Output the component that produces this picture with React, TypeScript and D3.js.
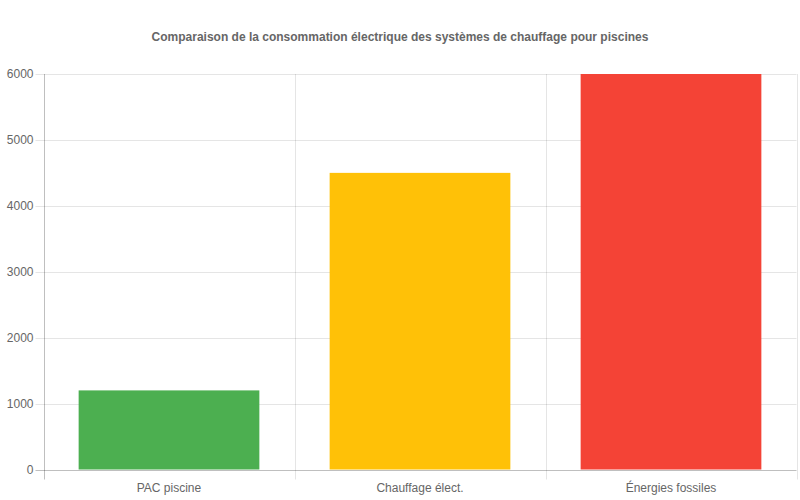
import React, { useEffect, useRef } from "react";
import * as d3 from "d3";

const categories = ["PAC piscine", "Chauffage élect.", "Énergies fossiles"];
const values = [1200, 4500, 6000];
const colors = ["#4CAF50", "#FFC107", "#F44336"];
const yTicks = [0, 1000, 2000, 3000, 4000, 5000, 6000];
const title = "Comparaison de la consommation électrique des systèmes de chauffage pour piscines";

export default function App() {
  const ref = useRef<SVGSVGElement | null>(null);

  useEffect(() => {
    const width = 800;
    const height = 500;
    const margin = { top: 74, right: 3.5, bottom: 30.5, left: 43.5 };
    const svg = d3.select(ref.current);
    svg.selectAll("*").remove();

    const font = "'Liberation Sans', Arial, sans-serif";

    const x = d3
      .scaleBand<string>()
      .domain(categories)
      .range([margin.left, width - margin.right]);
    const y = d3
      .scaleLinear()
      .domain([0, 6000])
      .range([height - margin.bottom, margin.top]);

    // grille horizontale
    svg
      .append("g")
      .selectAll("line")
      .data(yTicks)
      .enter()
      .append("line")
      .attr("x1", margin.left - 8)
      .attr("x2", width - margin.right)
      .attr("y1", (d) => Math.round(y(d)) + 0.5)
      .attr("y2", (d) => Math.round(y(d)) + 0.5)
      .attr("stroke", (d) => (d === 0 ? "rgba(0,0,0,0.25)" : "rgba(0,0,0,0.1)"))
      .attr("stroke-width", 1);

    // grille verticale
    const bounds = categories.map((c) => x(c) as number).concat([width - margin.right]);
    svg
      .append("g")
      .selectAll("line")
      .data(bounds)
      .enter()
      .append("line")
      .attr("x1", (d) => Math.round(d) + 0.5)
      .attr("x2", (d) => Math.round(d) + 0.5)
      .attr("y1", margin.top)
      .attr("y2", height - margin.bottom + 10)
      .attr("stroke", (d, i) => (i === 0 ? "rgba(0,0,0,0.25)" : "rgba(0,0,0,0.1)"))
      .attr("stroke-width", 1);

    // barres
    const barW = x.bandwidth() * 0.72;
    svg
      .append("g")
      .selectAll("rect")
      .data(values)
      .enter()
      .append("rect")
      .attr("x", (d, i) => (x(categories[i]) as number) + (x.bandwidth() - barW) / 2)
      .attr("width", barW)
      .attr("y", (d) => y(d))
      .attr("height", (d) => y(0) - y(d))
      .attr("fill", (d, i) => colors[i]);

    // étiquettes y
    svg
      .append("g")
      .selectAll("text")
      .data(yTicks)
      .enter()
      .append("text")
      .attr("x", margin.left - 10)
      .attr("y", (d) => y(d))
      .attr("dy", "0.35em")
      .attr("text-anchor", "end")
      .attr("font-family", font)
      .attr("font-size", 12)
      .attr("fill", "#666")
      .text((d) => d);

    // étiquettes x
    svg
      .append("g")
      .selectAll("text")
      .data(categories)
      .enter()
      .append("text")
      .attr("x", (d) => (x(d) as number) + x.bandwidth() / 2)
      .attr("y", height - margin.bottom + 22)
      .attr("text-anchor", "middle")
      .attr("font-family", font)
      .attr("font-size", 12)
      .attr("fill", "#666")
      .text((d) => d);

    // titre
    svg
      .append("text")
      .attr("x", width / 2)
      .attr("y", 41)
      .attr("text-anchor", "middle")
      .attr("font-family", font)
      .attr("font-size", 12)
      .attr("font-weight", "700")
      .attr("fill", "#666")
      .text(title);
  }, []);

  return (
    <div style={{ position: "absolute", left: 0, top: 0 }}>
      <svg ref={ref} width={800} height={500} style={{ display: "block", background: "#fff" }} />
    </div>
  );
}
